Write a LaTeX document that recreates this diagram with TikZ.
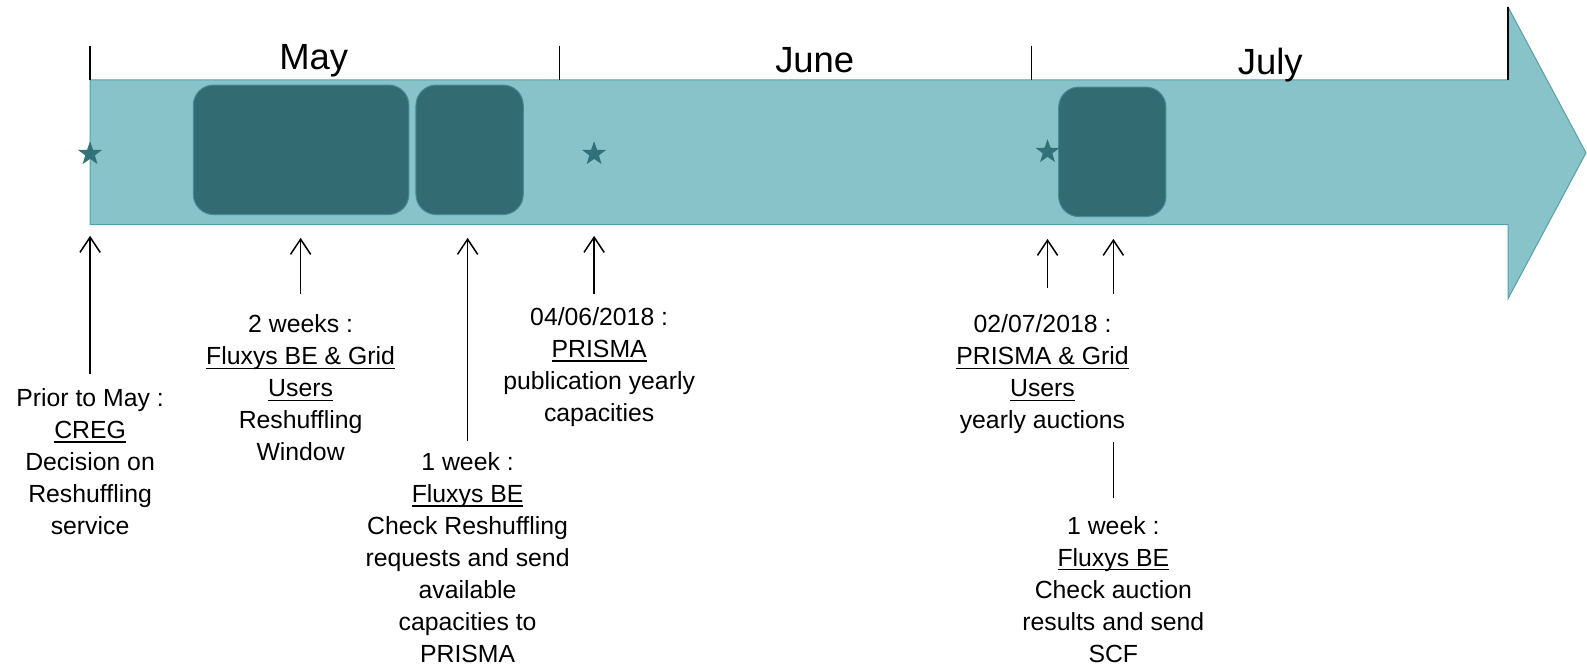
\documentclass[tikz,border=0pt]{standalone}
\usepackage{fontspec}
\setmainfont{Liberation Sans}
\usetikzlibrary{arrows.meta,shapes.geometric}
\definecolor{shaftfill}{RGB}{137,195,202}
\definecolor{shaftdraw}{RGB}{84,160,170}
\definecolor{boxfill}{RGB}{51,107,115}
\definecolor{boxdraw}{RGB}{72,138,148}
\definecolor{starfill}{RGB}{49,114,122}
\newcommand\myul[1]{\setbox0\hbox{#1}\rlap{\vrule height -2.6pt depth 4.0pt width \wd0}\box0}
\tikzset{
  body/.style={font=\fontsize{24.5}{31.6}\selectfont, align=center, inner sep=0pt, anchor=north},
  month/.style={font=\fontsize{36}{40}\selectfont, anchor=base, inner sep=0pt},
  phase/.style={draw=boxdraw, fill=boxfill, rounded corners=20pt, line width=1pt, inner sep=0pt},
  starnode/.style={star, star points=5, star point ratio=2.5, fill=starfill, minimum size=25pt, inner sep=0pt},
  uparrow/.style={-{Straight Barb[length=15pt,width=20pt,line width=1.5pt]}, line width=1.5pt},
  monthtick/.style={line width=1.5pt},
  plainlink/.style={line width=1.5pt}
}
\begin{document}
\begin{tikzpicture}[x=1pt,y=-1pt]
\useasboundingbox (0,0) rectangle (1568,658);
% timeline arrow
\path[fill=shaftfill, draw=shaftdraw, line width=1pt]
  (89,79) -- (1490,79) -- (1490,7) -- (1567,151) -- (1490,295) -- (1490,222) -- (89,222) -- cycle;
% month ticks
\draw[monthtick] (89,45) -- (89,79);
\draw[monthtick] (553,45) -- (553,79);
\draw[monthtick] (1019,45) -- (1019,79);
\draw[line width=2.5pt] (1490,7) -- (1490,79);
% month labels
\node[month] (may) at (310,69) {May};
\node[month] (june) at (805,72) {June};
\node[month] (july) at (1255,74) {July};
% phase boxes
\node[phase, minimum width=213pt, minimum height=128pt] (p1) at (297.5,148) {};
\node[phase, minimum width=106pt, minimum height=128pt] (p2) at (464,148) {};
\node[phase, minimum width=106pt, minimum height=128pt] (p3) at (1099,150) {};
% stars
\node[starnode] (s1) at (89,152) {};
\node[starnode] (s2) at (587,152) {};
\node[starnode] (s3) at (1035,150) {};
% arrow targets on the timeline
\coordinate (t1) at (89,233);
\coordinate (t2) at (297,235);
\coordinate (t3) at (462,235);
\coordinate (t4) at (587,233);
\coordinate (t5) at (1035,236);
\coordinate (t6) at (1100,236);
% arrow tails
\coordinate (b1) at (89,370);
\coordinate (b2) at (297,290);
\coordinate (b3) at (462,436);
\coordinate (b4) at (587,290);
\coordinate (b5) at (1035,285);
\coordinate (b6) at (1100,290);
\coordinate (l1) at (1100,437);
\coordinate (l2) at (1100,492);
\draw[uparrow] (b1) -- (t1);
\draw[uparrow] (b2) -- (t2);
\draw[uparrow] (b3) -- (t3);
\draw[uparrow] (b4) -- (t4);
\draw[uparrow] (b5) -- (t5);
\draw[uparrow] (b6) -- (t6);
\draw[plainlink] (l1) -- (l2);
% texts
\node[body] (ta) at (89,384) {Prior to May :\\\myul{CREG}\\Decision on\\Reshuffling\\service};
\node[body] (tb) at (297,311) {2 weeks :\\\myul{Fluxys BE \& Grid}\\\myul{Users}\\Reshuffling\\Window};
\node[body] (tc) at (462,447) {1 week :\\\myul{Fluxys BE}\\Check Reshuffling\\requests and send\\available\\capacities to\\PRISMA};
\node[body] (td) at (592,304) {04/06/2018 :\\\myul{PRISMA}\\publication yearly\\capacities};
\node[body] (te) at (1030,311) {02/07/2018 :\\\myul{PRISMA \& Grid}\\\myul{Users}\\yearly auctions};
\node[body] (tf) at (1100,510) {1 week :\\\myul{Fluxys BE}\\Check auction\\results and send\\SCF};
\end{tikzpicture}
\end{document}
